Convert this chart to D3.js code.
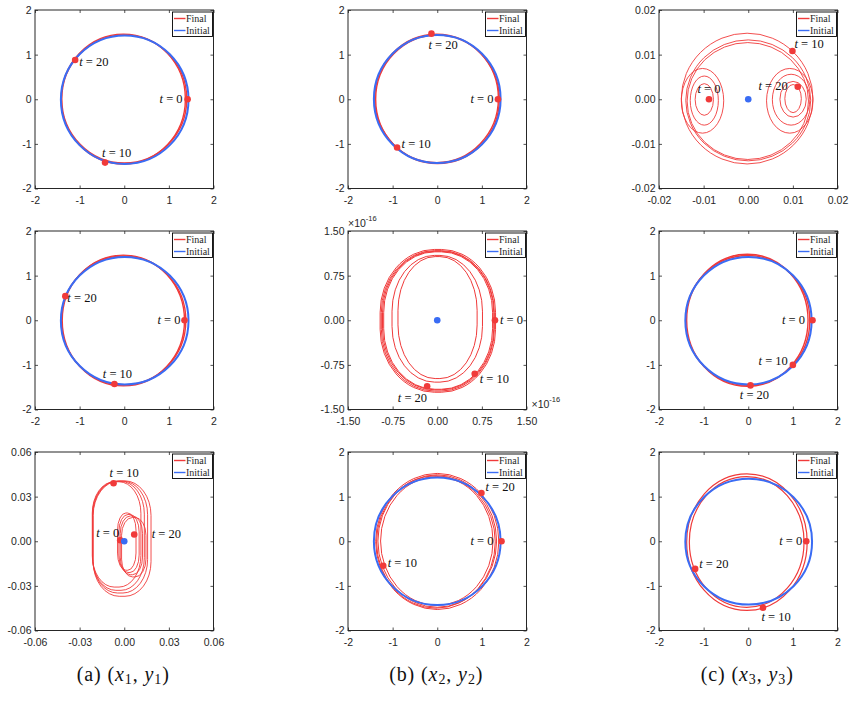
<!DOCTYPE html>
<html>
<head>
<meta charset="utf-8">
<script src="https://cdn.jsdelivr.net/npm/d3@7"></script>
<style>
  body { margin: 0; background: #fff; }
  svg { display: block; }
</style>
</head>
<body>
<div id="figure"></div>
<script>
// tick values / labels
var ticksUnit = [-2, -1, 0, 1, 2];
var tickLabelsUnit = ["-2", "-1", "0", "1", "2"];
var ticksC1 = [-0.02, -0.01, 0, 0.01, 0.02];
var tickLabelsC1 = ["-0.02", "-0.01", "0.00", "0.01", "0.02"];
var ticksB2 = [-1.5, -0.75, 0, 0.75, 1.5];          // x 1e-16
var tickLabelsB2 = ["-1.50", "-0.75", "0.00", "0.75", "1.50"];
var ticksA3 = [-0.06, -0.03, 0, 0.03, 0.06];
var tickLabelsA3 = ["-0.06", "-0.03", "0.00", "0.03", "0.06"];

var seriesNames = ["Final", "Initial"];
var markerTimes = ["0", "10", "20"];

// loops: [xmin, xmax, ymin, ymax]
var initA1 = [[-1.42, 1.44, -1.45, 1.43]];
var finalA1 = [[-1.41, 1.37, -1.45, 1.46], [-1.40, 1.40, -1.43, 1.44]];
var initB1 = [[-1.42, 1.42, -1.43, 1.44]];
var finalB1 = [[-1.40, 1.37, -1.42, 1.46], [-1.38, 1.39, -1.44, 1.44]];
var initC1 = [];
var finalC1 = [
  [-0.0150, 0.0145, -0.0145, 0.0148],
  [-0.0140, 0.0140, -0.0138, 0.0133],
  [-0.0137, 0.0135, -0.0135, 0.0127],
  [-0.0150, -0.0055, -0.0076, 0.0069],
  [-0.0130, -0.0067, -0.0058, 0.0052],
  [-0.0119, -0.0078, -0.0036, 0.0035],
  [0.0041, 0.0145, -0.0076, 0.0069],
  [0.0054, 0.0138, -0.0058, 0.0056],
  [0.0071, 0.0130, -0.0040, 0.0040],
  [0.0082, 0.0119, -0.0030, 0.0033]
];
var initA2 = [[-1.42, 1.44, -1.44, 1.42]];
var finalA2 = [[-1.39, 1.35, -1.47, 1.46], [-1.41, 1.38, -1.45, 1.44]];
var initB2 = [];
var finalB2 = [
  [-0.96, 0.98, -1.21, 1.19],
  [-0.94, 0.96, -1.19, 1.17],
  [-0.92, 0.95, -1.17, 1.16],
  [-0.90, 0.93, -1.16, 1.15],
  [-0.76, 0.76, -1.04, 1.09],
  [-0.66, 0.67, -0.98, 1.07]
];
var initC2 = [[-1.41, 1.42, -1.44, 1.42]];
var finalC2 = [[-1.38, 1.34, -1.48, 1.48], [-1.40, 1.38, -1.46, 1.45]];
var initA3 = [];
var finalA3 = [
  [-0.0215, 0.0112, -0.0308, 0.0400],
  [-0.0213, 0.0135, -0.0330, 0.0402],
  [-0.0211, 0.0157, -0.0348, 0.0404],
  [-0.0209, 0.0180, -0.0370, 0.0406],
  [-0.0045, 0.0079, -0.0195, 0.0190],
  [-0.0036, 0.0100, -0.0210, 0.0180],
  [-0.0027, 0.0123, -0.0225, 0.0170],
  [-0.0018, 0.0146, -0.0240, 0.0160]
];
var initB3 = [[-1.42, 1.42, -1.43, 1.43]];
var finalB3 = [
  [-1.38, 1.38, -1.53, 1.52],
  [-1.33, 1.33, -1.48, 1.49],
  [-1.27, 1.25, -1.44, 1.45],
  [-1.36, 1.30, -1.50, 1.47]
];
var initC3 = [[-1.41, 1.43, -1.42, 1.40]];
var finalC3 = [[-1.38, 1.32, -1.55, 1.51], [-1.32, 1.25, -1.48, 1.45]];

// red markers at t = 0, 10, 20
var dotsA1 = [[1.42, 0], [-0.43, -1.42], [-1.10, 0.88]];
var dotsB1 = [[1.36, 0], [-0.90, -1.08], [-0.13, 1.47]];
var dotsC1 = [[-0.0088, 0], [0.0099, 0.0108], [0.0111, 0.0028]];
var dotsA2 = [[1.35, 0], [-0.22, -1.43], [-1.32, 0.54]];
var dotsB2 = [[0.97, 0], [0.63, -0.90], [-0.17, -1.11]];
var dotsC2 = [[1.44, 0], [1.00, -1.00], [0.05, -1.46]];
var dotsA3 = [[-0.0027, 0.0007], [-0.0072, 0.039], [0.0067, 0.0045]];
var dotsB3 = [[1.44, 0], [-1.21, -0.55], [0.99, 1.08]];
var dotsC3 = [[1.30, 0], [0.33, -1.49], [-1.19, -0.62]];

// blue marker (initial point) where the initial orbit is a point
var initDotC1 = [[0, 0]];
var initDotB2 = [[0, 0]];
var initDotA3 = [[0, 0]];

// ---- layout ----
var red = "#f03a3a", blue = "#3a6cf4", ink = "#262626";
var W = 178.5, H = 178.5;
var colX = [35, 348, 659];
var rowY = [10, 231, 452];

// label offsets (px from the marker): [dx, dy, anchor]
var panels = [
  {col: 0, row: 0, ticks: ticksUnit, labels: tickLabelsUnit, init: initA1, fin: finalA1, dots: dotsA1, initDot: [], round: [0.5, 0.5], redW: 1.4,
   lab: [[-5, 0, "end"], [-3, -10, "start"], [4, 2, "start"]]},
  {col: 1, row: 0, ticks: ticksUnit, labels: tickLabelsUnit, init: initB1, fin: finalB1, dots: dotsB1, initDot: [], round: [0.5, 0.5], redW: 1.4,
   lab: [[-4.5, 0, "end"], [4.5, -4, "start"], [-3, 11, "start"]]},
  {col: 2, row: 0, ticks: ticksC1, labels: tickLabelsC1, init: initC1, fin: finalC1, dots: dotsC1, initDot: initDotC1, round: [0.5, 0.5], redW: 0.9,
   lab: [[0, -10, "middle"], [2, -7, "start"], [-10, -1, "end"]]},
  {col: 0, row: 1, ticks: ticksUnit, labels: tickLabelsUnit, init: initA2, fin: finalA2, dots: dotsA2, initDot: [], round: [0.5, 0.5], redW: 1.4,
   lab: [[-4, 0, "end"], [3, -10, "middle"], [2, 2, "start"]]},
  {col: 1, row: 1, ticks: ticksB2, labels: tickLabelsB2, init: initB2, fin: finalB2, dots: dotsB2, initDot: initDotB2, round: [0.47, 0.44], redW: 1,
   lab: [[5, 0, "start"], [5, 5.5, "start"], [0, 11.5, "end"]], exponent: true},
  {col: 2, row: 1, ticks: ticksUnit, labels: tickLabelsUnit, init: initC2, fin: finalC2, dots: dotsC2, initDot: [], round: [0.5, 0.5], redW: 1.4,
   lab: [[-7.5, 0, "end"], [-5, -4, "end"], [4, 9, "middle"]]},
  {col: 0, row: 2, ticks: ticksA3, labels: tickLabelsA3, init: initA3, fin: finalA3, dots: dotsA3, initDot: initDotA3, round: [0.45, 0.3], redW: 0.9,
   lab: [[-1, -7, "end"], [-4, -10, "start"], [17.5, -1, "start"]]},
  {col: 1, row: 2, ticks: ticksUnit, labels: tickLabelsUnit, init: initB3, fin: finalB3, dots: dotsB3, initDot: [], round: [0.5, 0.5], redW: 1,
   lab: [[-8, 0, "end"], [4.5, -2.5, "start"], [4, -6, "start"]]},
  {col: 2, row: 2, ticks: ticksUnit, labels: tickLabelsUnit, init: initC3, fin: finalC3, dots: dotsC3, initDot: [], round: [0.5, 0.5], redW: 1.2,
   lab: [[-4, 0, "end"], [-1.5, 9.5, "start"], [4, -5.5, "start"]]}
];

var captionLetters = ["a", "b", "c"];
var captionIndex = ["1", "2", "3"];

var svg = d3.select("#figure").append("svg")
    .attr("width", 855)
    .attr("height", 712)
    .style("font-family", "'Liberation Serif', 'Times New Roman', serif");

panels.forEach(function(p, pi) {
  var dom = [p.ticks[0], p.ticks[p.ticks.length - 1]];
  var x = d3.scaleLinear().domain(dom).range([0, W]);
  var y = d3.scaleLinear().domain(dom).range([H, 0]);

  var g = svg.append("g")
      .attr("transform", "translate(" + colX[p.col] + "," + rowY[p.row] + ")");

  var clipId = "clip" + pi;
  g.append("clipPath").attr("id", clipId)
    .append("rect").attr("width", W).attr("height", H);

  var plot = g.append("g").attr("clip-path", "url(#" + clipId + ")");

  // final (red) loops first
  plot.selectAll(null)
      .data(p.fin)
      .enter().append("rect")
      .attr("x", function(d) { return x(d[0]); })
      .attr("y", function(d) { return y(d[3]); })
      .attr("width", function(d) { return x(d[1]) - x(d[0]); })
      .attr("height", function(d) { return y(d[2]) - y(d[3]); })
      .attr("rx", function(d) { return (x(d[1]) - x(d[0])) * p.round[0]; })
      .attr("ry", function(d) { return (y(d[2]) - y(d[3])) * p.round[1]; })
      .style("fill", "none")
      .style("stroke", red)
      .style("stroke-width", p.redW);

  // initial (blue) on top
  plot.selectAll(null)
      .data(p.init)
      .enter().append("ellipse")
      .attr("cx", function(d) { return (x(d[0]) + x(d[1])) / 2; })
      .attr("cy", function(d) { return (y(d[2]) + y(d[3])) / 2; })
      .attr("rx", function(d) { return (x(d[1]) - x(d[0])) / 2; })
      .attr("ry", function(d) { return (y(d[2]) - y(d[3])) / 2; })
      .style("fill", "none")
      .style("stroke", blue)
      .style("stroke-width", 2);

  // markers
  plot.selectAll(null)
      .data(p.dots)
      .enter().append("circle")
      .attr("cx", function(d) { return x(d[0]); })
      .attr("cy", function(d) { return y(d[1]); })
      .attr("r", 3.3)
      .style("fill", red);
  plot.selectAll(null)
      .data(p.initDot)
      .enter().append("circle")
      .attr("cx", function(d) { return x(d[0]); })
      .attr("cy", function(d) { return y(d[1]); })
      .attr("r", 3.3)
      .style("fill", blue);

  // t labels
  var tl = g.selectAll(null)
      .data(p.dots)
      .enter().append("text")
      .attr("x", function(d, i) { return x(d[0]) + p.lab[i][0]; })
      .attr("y", function(d, i) { return y(d[1]) + p.lab[i][1]; })
      .attr("dy", "0.33em")
      .attr("text-anchor", function(d, i) { return p.lab[i][2]; })
      .style("font-size", "12.5px")
      .style("fill", "#111");
  tl.append("tspan").style("font-style", "italic").text("t");
  tl.append("tspan").text(function(d, i) { return " = " + markerTimes[i]; });

  // axes, ticks inward on all four sides
  var fmt = function(d, i) { return p.labels[i]; };
  var axes = [
    {ax: d3.axisBottom(x).tickFormat(fmt).tickPadding(8.5), tr: "translate(0," + H + ")"},
    {ax: d3.axisLeft(y).tickFormat(fmt).tickPadding(3.5), tr: null},
    {ax: d3.axisTop(x).tickFormat(""), tr: null},
    {ax: d3.axisRight(y).tickFormat(""), tr: "translate(" + W + ",0)"}
  ];
  axes.forEach(function(a) {
    var ag = g.append("g")
        .call(a.ax.tickValues(p.ticks).tickSizeInner(-3).tickSizeOuter(0));
    if (a.tr) ag.attr("transform", a.tr);
    ag.select(".domain").remove();
    ag.selectAll("line").style("stroke", ink).style("stroke-width", 0.8);
    ag.selectAll("text")
        .style("font-family", "'Liberation Sans', Arial, sans-serif")
        .style("font-size", "10.5px")
        .style("fill", ink);
  });

  g.append("rect")
      .attr("width", W).attr("height", H)
      .style("fill", "none")
      .style("stroke", ink)
      .style("stroke-width", 1);

  // x10^-16 notes
  if (p.exponent) {
    [[0, -4], [W + 5, H - 2]].forEach(function(pos) {
      var t = g.append("text")
          .attr("x", pos[0]).attr("y", pos[1])
          .style("font-family", "'Liberation Sans', Arial, sans-serif")
          .style("font-size", "10.5px")
          .style("fill", ink);
      t.append("tspan").text("\u00d710");
      t.append("tspan").attr("dy", -6).style("font-size", "7.5px").text("-16");
    });
  }

  // legend
  var lg = g.append("g").attr("transform", "translate(" + (W - 41) + ",2)");
  lg.append("rect")
      .attr("width", 40).attr("height", 24.5)
      .style("fill", "#fff")
      .style("stroke", "#000")
      .style("stroke-width", 0.9);
  [red, blue].forEach(function(c, i) {
    lg.append("line")
        .attr("x1", 1.5).attr("x2", 13)
        .attr("y1", 6.5 + i * 12).attr("y2", 6.5 + i * 12)
        .style("stroke", c).style("stroke-width", 1.4);
    lg.append("text")
        .attr("x", 13.5).attr("y", 6.5 + i * 12).attr("dy", "0.35em")
        .style("font-size", "10px")
        .style("fill", ink)
        .text(seriesNames[i]);
  });
});

// captions
[0, 1, 2].forEach(function(c) {
  var t = svg.append("text")
      .attr("x", colX[c] + W / 2 - 1)
      .attr("y", 681)
      .attr("text-anchor", "middle")
      .style("font-size", "20px")
      .style("letter-spacing", "0.9px")
      .style("fill", "#111");
  t.append("tspan").text("(" + captionLetters[c] + ") (");
  t.append("tspan").style("font-style", "italic").text("x");
  t.append("tspan").attr("dy", 3).style("font-size", "14px").text(captionIndex[c]);
  t.append("tspan").attr("dy", -3).text(", ");
  t.append("tspan").style("font-style", "italic").text("y");
  t.append("tspan").attr("dy", 3).style("font-size", "14px").text(captionIndex[c]);
  t.append("tspan").attr("dy", -3).text(")");
});
</script>
</body>
</html>
